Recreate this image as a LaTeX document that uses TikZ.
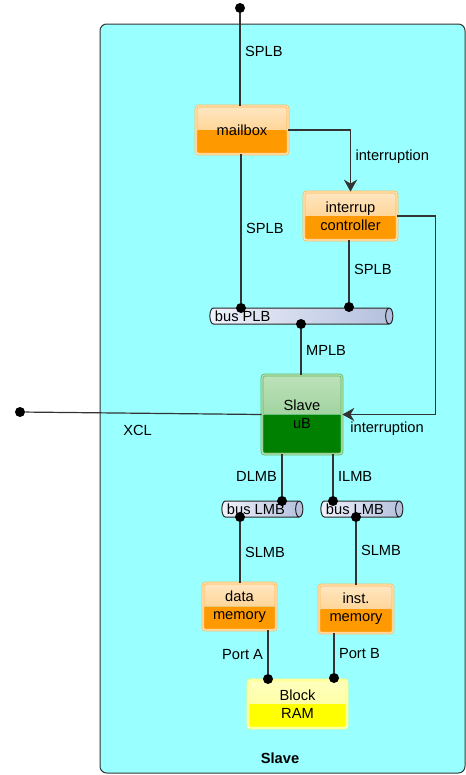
\documentclass[tikz,border=0pt]{standalone}
\usepackage{fontspec}
\setmainfont{Liberation Sans}
\usetikzlibrary{shapes.geometric,arrows.meta,positioning}
\definecolor{slavebg}{HTML}{99FFFF}
\definecolor{linegray}{HTML}{333333}
\definecolor{orangetop}{HTML}{FFE6C2}
\definecolor{orangemid}{HTML}{FFC56E}
\definecolor{orangelow}{HTML}{FF9900}
\definecolor{orangeline}{HTML}{FFB84D}
\definecolor{greentop}{HTML}{BDE2BA}
\definecolor{greenmid}{HTML}{86C486}
\definecolor{greenlow}{HTML}{008000}
\definecolor{greenline}{HTML}{5CB85C}
\definecolor{yellowtop}{HTML}{FFFFC0}
\definecolor{yellowmid}{HTML}{FFFF8C}
\definecolor{yellowlow}{HTML}{FFFF00}
\definecolor{yellowline}{HTML}{FFFF66}
\definecolor{busleft}{HTML}{F0F2FB}
\definecolor{busright}{HTML}{B3BFDD}
\tikzset{
	halves/.style n args={3}{path picture={
		\shade[top color=#1,bottom color=#2] (path picture bounding box.north west) rectangle (path picture bounding box.east);
		\fill[#3] (path picture bounding box.west) rectangle (path picture bounding box.south east);}},
	unit/.style={rounded corners=2pt, line width=0.6pt, double distance=0.9pt, align=center, inner sep=0pt},
	orangeunit/.style={unit, draw=orangeline, double=orangetop, halves={orangetop}{orangemid}{orangelow}},
	greenunit/.style={unit, draw=greenline, double=greentop, halves={greentop}{greenmid}{greenlow}},
	yellowunit/.style={unit, draw=yellowline, double=yellowtop, halves={yellowtop}{yellowmid}{yellowlow}},
	bus/.style={cylinder, shape aspect=0.45, draw=black!85, line width=0.75pt, left color=busleft, right color=busright, minimum width=12pt, inner sep=6pt},
	dot/.style={circle, fill=black, inner sep=0pt, minimum size=7.5pt},
	conn/.style={draw=linegray, line width=0.9pt},
	tip/.style={-{Stealth[length=9pt, width=10pt, inset=3pt]}}
}

\begin{document}
\begin{tikzpicture}[x=0.75pt, y=-0.75pt, every node/.style={font=\fontsize{11}{13.5}\selectfont}]
	\useasboundingbox (0,0) rectangle (466,775);
	% Slave
	\draw[rounded corners=5pt, fill=slavebg, draw=linegray, line width=0.75pt] (100,24) rectangle (465,773);
	\node[font=\fontsize{11}{13.5}\selectfont\bfseries] (slavename) at (280,758) {Slave};
	
	% Units
	\node[orangeunit, minimum width=69pt, minimum height=36pt] (mailbox) at (242,130) {mailbox};
	\node[orangeunit, minimum width=69.75pt, minimum height=36pt] (intctrl) at (350.5,216) {interrup\\controller};
	\node[greenunit, minimum width=60pt, minimum height=59.25pt] (slaveub) at (302,414.5) {Slave\\uB};
	\node[orangeunit, minimum width=54.75pt, minimum height=35.25pt] (datamem) at (239.5,606.5) {data\\memory};
	\node[orangeunit, minimum width=55.5pt, minimum height=36pt] (instmem) at (356,609) {inst.\\memory};
	\node[yellowunit, minimum width=74.25pt, minimum height=36pt] (blockram) at (297.5,704) {Block\\RAM};
	
	% Buses
	\node[bus, minimum height=137.25pt, label={[anchor=west, inner sep=4pt]west:bus PLB}] (busplb) at (297.5,316) {};
	\node[bus, minimum height=60.75pt, label={[anchor=west, inner sep=4pt]west:bus LMB}] (buslmbd) at (258.5,509) {};
	\node[bus, minimum height=61.5pt, label={[anchor=west, inner sep=4pt]west:bus LMB}] (buslmbi) at (358,509) {};
	
	% Ports
	\node[dot] (splbin) at (240,8) {};
	\node[dot] (xclin) at (20,412) {};
	\node[dot] (plbmail) at (241,308) {};
	\node[dot] (plbctrl) at (349,307) {};
	\node[dot] (plbub) at (301,324) {};
	\node[dot] (dlmbub) at (282,501) {};
	\node[dot] (dlmbmem) at (240,517) {};
	\node[dot] (ilmbub) at (333,501) {};
	\node[dot] (ilmbmem) at (356,517) {};
	\node[dot] (porta) at (268,679) {};
	\node[dot] (portb) at (334,678) {};
	
	% Links
	\draw[conn] (splbin) -- node[right, pos=0.41] {SPLB} (splbin |- mailbox.north);
	\draw[conn] (plbmail |- mailbox.south) -- node[right] {SPLB} (plbmail);
	\draw[conn] (plbctrl |- intctrl.south) -- node[right, pos=0.48] {SPLB} (plbctrl);
	\draw[conn] (plbub) -- node[right, pos=0.47] {MPLB} (plbub |- slaveub.north);
	\draw[conn, tip] (mailbox.east) -| node[right, pos=0.72] {interruption} (intctrl.north);
	\draw[conn, tip] (intctrl.east) -- ++(38,0) |- node[below=2pt, pos=0.76] {interruption} (slaveub.east);
	\draw[conn] (xclin) -- node[below=5pt, pos=0.475] {XCL} (slaveub.west);
	\draw[conn] (dlmbub |- slaveub.south) -- node[left, pos=0.53] {DLMB} (dlmbub);
	\draw[conn] (ilmbub |- slaveub.south) -- node[right, pos=0.53] {ILMB} (ilmbub);
	\draw[conn] (dlmbmem) -- node[right] {SLMB} (dlmbmem |- datamem.north);
	\draw[conn] (ilmbmem) -- node[right, pos=0.46] {SLMB} (ilmbmem |- instmem.north);
	\draw[conn] (porta |- datamem.south) -- node[left, pos=0.55] {Port A} (porta);
	\draw[conn] (portb |- instmem.south) -- node[right] {Port B} (portb);
\end{tikzpicture}
\end{document}
